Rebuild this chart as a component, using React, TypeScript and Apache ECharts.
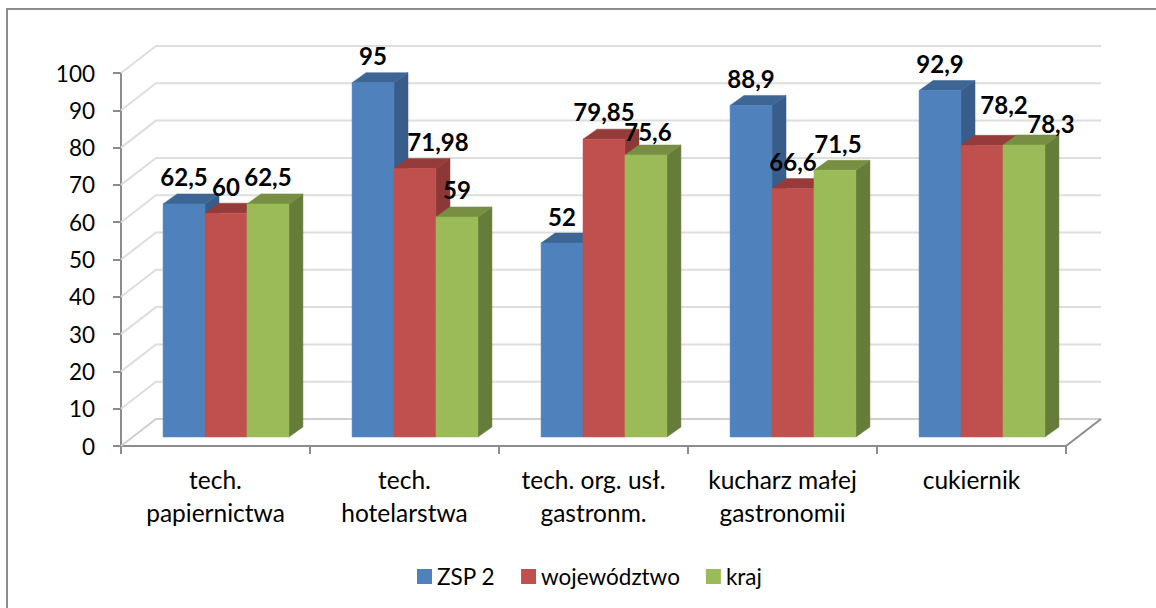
import React, { useEffect, useRef } from "react";
import * as echarts from "echarts";

const categories = ["tech.\npapiernictwa", "tech.\nhotelarstwa", "tech. org. usł.\ngastronm.", "kucharz małej\ngastronomii", "cukiernik"];
const zsp = [62.5, 95, 52, 88.9, 92.9];
const wojewodztwo = [60, 71.98, 79.85, 66.6, 78.2];
const kraj = [62.5, 59, 75.6, 71.5, 78.3];
const zspLabels = ["62,5", "95", "52", "88,9", "92,9"];
const wojLabels = ["60", "71,98", "79,85", "66,6", "78,2"];
const krajLabels = ["62,5", "59", "75,6", "71,5", "78,3"];
const ticks = [0, 10, 20, 30, 40, 50, 60, 70, 80, 90, 100];

const wallDX = 35;
const wallDY = -27;
const barShiftX = 10.5;
const barShiftY = -9;
const depthX = 14;
const depthY = -10;
const barRatio = 0.222;

const palette = [
  { front: "#4F81BD", side: "#385D8A", top: "#3E6695" },
  { front: "#C0504D", side: "#8C3836", top: "#953B39" },
  { front: "#9BBB59", side: "#667D3A", top: "#788F43" },
];

const poly = (points: number[][], fill: string) => ({
  type: "polygon",
  shape: { points },
  style: { fill, stroke: fill, lineWidth: 0.5 },
  silent: true,
});

const barSeries = (name: string, values: number[], idx: number) => ({
  name,
  type: "custom",
  z: 3,
  silent: true,
  itemStyle: { color: palette[idx].front },
  data: values.map((v, i) => [i, v]),
  encode: { x: 0, y: 1 },
  renderItem: (_p: any, api: any) => {
    const top = api.coord([api.value(0), api.value(1)]);
    const base = api.coord([api.value(0), 0]);
    const w = api.size([1, 0])[0] * barRatio;
    const x0 = top[0] + barShiftX + (idx - 1.5) * w;
    const x1 = x0 + w;
    const yt = top[1] + barShiftY;
    const yb = base[1] + barShiftY;
    const c = palette[idx];
    return {
      type: "group",
      children: [
        poly([[x1, yt], [x1 + depthX, yt + depthY], [x1 + depthX, yb + depthY], [x1, yb]], c.side),
        poly([[x0, yt], [x0 + depthX, yt + depthY], [x1 + depthX, yt + depthY], [x1, yt]], c.top),
        poly([[x0, yt], [x1, yt], [x1, yb], [x0, yb]], c.front),
      ],
    };
  },
});

// Hand-placed label nudges, as in the original chart: [series, category, dx, dy]
const nudges: number[][] = [
  [1, 1, 23, 0],
  [1, 2, 0, -1],
  [2, 2, 2, 3],
  [2, 3, 3, 0],
  [1, 4, 22, -14],
  [2, 4, 27, 6],
];

const labelSeries = (values: number[], labels: string[], idx: number) => ({
  type: "custom",
  z: 10,
  silent: true,
  data: values.map((v, i) => [i, v]),
  encode: { x: 0, y: 1 },
  renderItem: (_p: any, api: any) => {
    const i = api.value(0);
    const top = api.coord([i, api.value(1)]);
    const w = api.size([1, 0])[0] * barRatio;
    const n = nudges.find((m) => m[0] === idx && m[1] === i);
    return {
      type: "text",
      silent: true,
      style: {
        x: top[0] + barShiftX + (idx - 1) * w + (n ? n[2] : 0),
        y: top[1] + barShiftY - 27 + (n ? n[3] : 0),
        text: labels[i],
        fill: "#000",
        font: "bold 24px Lato, sans-serif",
        align: "center",
        verticalAlign: "middle",
      },
    };
  },
});

const wallSeries = {
  type: "custom",
  z: 1,
  silent: true,
  data: ticks.map((t) => [0, t]),
  encode: { y: 1 },
  renderItem: (p: any, api: any) => {
    const v = api.value(1);
    const y = api.coord([0, v])[1];
    const g = p.coordSys;
    const x0 = g.x;
    const x1 = g.x + g.width;
    return {
      type: "polyline",
      silent: true,
      shape: { points: [[x0, y], [x0 + wallDX, y + wallDY], [x1 + wallDX, y + wallDY]] },
      style: { fill: "none", stroke: v === 0 ? "#CFCFCF" : "#DEDEDE", lineWidth: 2 },
    };
  },
};

const floorEdge = {
  type: "custom",
  z: 2,
  silent: true,
  data: [[0, 0]],
  encode: { y: 1 },
  renderItem: (p: any, api: any) => {
    const y = api.coord([0, 0])[1];
    const x1 = p.coordSys.x + p.coordSys.width;
    return {
      type: "line",
      silent: true,
      shape: { x1, y1: y, x2: x1 + wallDX, y2: y + wallDY },
      style: { stroke: "#8C8C8C", lineWidth: 2 },
    };
  },
};

export default function App() {
  const ref = useRef<HTMLDivElement>(null);
  useEffect(() => {
    const chart = echarts.init(ref.current!, undefined, { renderer: "svg" });
    chart.setOption({
      animation: false,
      backgroundColor: "#FFFFFF",
      textStyle: { fontFamily: "Lato, sans-serif" },
      grid: { left: 121, top: 73, width: 945, height: 373, containLabel: false },
      legend: {
        data: ["ZSP 2", "województwo", "kraj"],
        left: 417,
        top: 565,
        padding: 0,
        icon: "rect",
        itemWidth: 15,
        itemHeight: 15,
        itemGap: 26,
        textStyle: { fontSize: 22.5, color: "#000", fontFamily: "Lato, sans-serif" },
        selectedMode: false,
      },
      xAxis: {
        type: "category",
        data: categories,
        boundaryGap: true,
        axisLine: { lineStyle: { color: "#8C8C8C", width: 2 } },
        axisTick: { show: true, length: 8, alignWithLabel: false, lineStyle: { color: "#8C8C8C", width: 2 } },
        axisLabel: { fontSize: 24.5, color: "#000", lineHeight: 33, margin: 17, interval: 0 },
        splitLine: { show: false },
      },
      yAxis: {
        type: "value",
        min: 0,
        max: 100,
        interval: 10,
        axisLine: { show: true, lineStyle: { color: "#8C8C8C", width: 2 } },
        axisTick: { show: true, length: 8, lineStyle: { color: "#8C8C8C", width: 2 } },
        axisLabel: { fontSize: 22.5, color: "#000", margin: 26 },
        splitLine: { show: false },
      },
      graphic: [
        {
          type: "polyline",
          silent: true,
          shape: { points: [[7, 608], [7, 9], [1156, 9]] },
          style: { fill: "none", stroke: "#8C8C8C", lineWidth: 2 },
        },
      ],
      series: [
        wallSeries,
        floorEdge,
        barSeries("ZSP 2", zsp, 0),
        barSeries("województwo", wojewodztwo, 1),
        barSeries("kraj", kraj, 2),
        labelSeries(zsp, zspLabels, 0),
        labelSeries(wojewodztwo, wojLabels, 1),
        labelSeries(kraj, krajLabels, 2),
      ],
    });
    return () => chart.dispose();
  }, []);
  return <div ref={ref} style={{ position: "absolute", left: 0, top: 0, width: 1156, height: 608 }} />;
}
